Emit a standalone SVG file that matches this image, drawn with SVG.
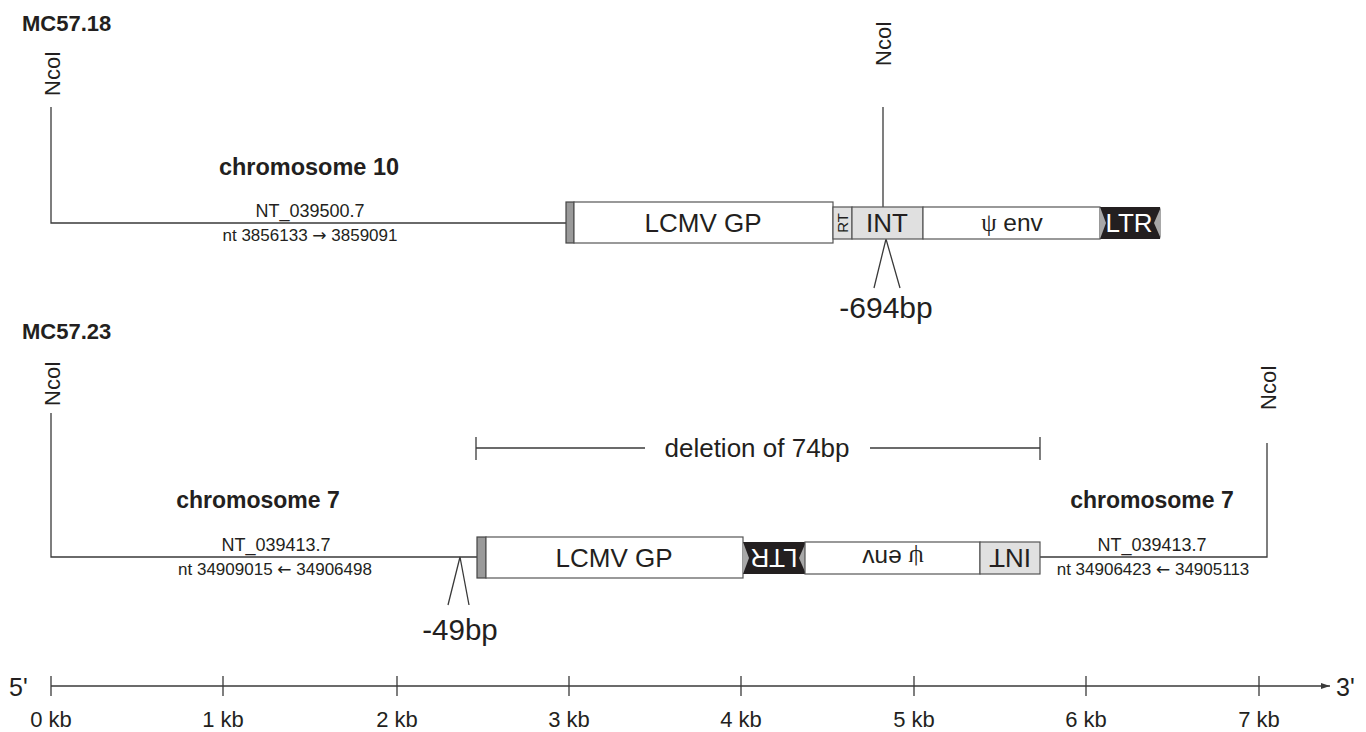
<svg xmlns="http://www.w3.org/2000/svg" width="1366" height="732" viewBox="0 0 1366 732">
<defs>
<style>
text{font-family:"Liberation Sans",Arial,Helvetica,sans-serif;fill:#231f20}
.b{font-weight:bold}
.sym{font-family:"Liberation Serif","Times New Roman",serif}
.arw{font-family:"DejaVu Sans",sans-serif}
.ln{stroke:#3a3a3a;stroke-width:1.3;fill:none}
.box{stroke:#555;stroke-width:1.2}
.w{fill:#fff}
.g{fill:#e0e0e0}
.strip{fill:#9a9a9a;stroke:#444;stroke-width:1.2}
.ltr{fill:#231f20}
.tri{fill:#a8a8a8}
</style>
<marker id="arr" markerWidth="10" markerHeight="8" refX="9" refY="4" orient="auto" markerUnits="userSpaceOnUse">
<path d="M0,1 L9,4 L0,7 Z" fill="#3a3a3a"/>
</marker>
</defs>
<rect width="1366" height="732" fill="#fff"/>

<!-- connectors / lines -->
<g id="connectors">
<polyline class="ln" points="51,107 51,223 566,223"/>
<line class="ln" x1="883" y1="107" x2="883" y2="207"/>
<polyline class="ln" points="874,288 886,239 900,288"/>
<polyline class="ln" points="51,413 51,557 477,557"/>
<polyline class="ln" points="1040,557 1267,557 1267,443"/>
<polyline class="ln" points="448,605 460,557 469,605"/>
<line class="ln" x1="476" y1="448" x2="645" y2="448"/>
<line class="ln" x1="870" y1="448" x2="1040" y2="448"/>
<line class="ln" x1="476" y1="437" x2="476" y2="460"/>
<line class="ln" x1="1040" y1="437" x2="1040" y2="460"/>
</g>

<!-- top construct -->
<g id="mc5718">
<text class="b" x="22" y="31" font-size="22">MC57.18</text>
<text x="0" y="0" font-size="22" transform="translate(60,96) rotate(-90)">NcoI</text>
<text x="0" y="0" font-size="22" transform="translate(891,66) rotate(-90)">NcoI</text>
<text class="b" x="309" y="175" font-size="23.5" text-anchor="middle">chromosome 10</text>
<text x="310" y="217" font-size="18" text-anchor="middle">NT_039500.7</text>
<text x="310" y="241" font-size="17" text-anchor="middle">nt 3856133 <tspan class="arw">→</tspan> 3859091</text>
</g>
<g id="top-strip"><rect class="strip" x="566" y="202" width="8" height="41"/></g>
<g id="top-lcmv"><rect class="box w" x="574" y="202" width="259" height="41"/>
<text x="703" y="232" font-size="26" text-anchor="middle">LCMV GP</text></g>
<g id="top-rt"><rect class="box g" x="833" y="207" width="19" height="32"/>
<text x="0" y="0" font-size="15" text-anchor="middle" transform="translate(848,223) rotate(-90)">RT</text></g>
<g id="top-int"><rect class="box g" x="852" y="207" width="71" height="32"/>
<text x="887" y="232" font-size="26" text-anchor="middle">INT</text></g>
<g id="top-env"><rect class="box w" x="923" y="207" width="177" height="32"/>
<text x="1012" y="231" font-size="24.5" text-anchor="middle"><tspan class="sym">ψ</tspan> env</text></g>
<g id="top-ltr"><rect class="ltr" x="1100" y="207" width="60" height="32"/>
<path class="tri" d="M1100,207 L1106,223 L1100,239 Z"/>
<path class="tri" d="M1161,207 L1154,223 L1161,239 Z"/>
<text x="1129" y="232" font-size="26" text-anchor="middle" style="fill:#fff">LTR</text></g>
<g id="top-del"><text x="886" y="318" font-size="30" text-anchor="middle">-694bp</text></g>

<!-- bottom construct -->
<g id="mc5723">
<text class="b" x="22" y="339" font-size="22">MC57.23</text>
<text x="0" y="0" font-size="22" transform="translate(60,406) rotate(-90)">NcoI</text>
<text x="0" y="0" font-size="22" transform="translate(1276,410) rotate(-90)">NcoI</text>
<text class="b" x="258" y="508" font-size="23" text-anchor="middle">chromosome 7</text>
<text x="276" y="551" font-size="18" text-anchor="middle">NT_039413.7</text>
<text x="275" y="575" font-size="17" text-anchor="middle">nt 34909015 <tspan class="arw">←</tspan> 34906498</text>
<text class="b" x="1152" y="508" font-size="23" text-anchor="middle">chromosome 7</text>
<text x="1152" y="551" font-size="18" text-anchor="middle">NT_039413.7</text>
<text x="1153" y="575" font-size="17" text-anchor="middle">nt 34906423 <tspan class="arw">←</tspan> 34905113</text>
<text x="757" y="457" font-size="26" text-anchor="middle">deletion of 74bp</text>
</g>
<g id="bot-strip"><rect class="strip" x="477" y="537" width="9" height="41"/></g>
<g id="bot-lcmv"><rect class="box w" x="486" y="537" width="257" height="41"/>
<text x="614" y="567" font-size="26" text-anchor="middle">LCMV GP</text></g>
<g id="bot-ltr"><rect class="ltr" x="743" y="542" width="62" height="32"/>
<path class="tri" d="M743,542 L749,558 L743,574 Z"/>
<path class="tri" d="M806,542 L799,558 L806,574 Z"/>
<text x="0" y="0" font-size="26" text-anchor="middle" style="fill:#fff" transform="translate(774,558) rotate(180) translate(0,9)">LTR</text></g>
<g id="bot-env"><rect class="box w" x="805" y="542" width="175" height="32"/>
<text x="0" y="0" font-size="24.5" text-anchor="middle" transform="translate(893,558) rotate(180) translate(0,8)"><tspan class="sym">ψ</tspan> env</text></g>
<g id="bot-int"><rect class="box g" x="980" y="542" width="60" height="32"/>
<text x="0" y="0" font-size="26" text-anchor="middle" transform="translate(1010,558) rotate(180) translate(0,9)">INT</text></g>
<g id="bot-del"><text x="460" y="640" font-size="29.5" text-anchor="middle">-49bp</text></g>

<!-- scale axis -->
<g id="axis">
<line class="ln" x1="51" y1="686" x2="1330" y2="686" marker-end="url(#arr)"/>
<g class="ln">
<line x1="51" y1="676" x2="51" y2="696"/>
<line x1="223" y1="676" x2="223" y2="696"/>
<line x1="397" y1="676" x2="397" y2="696"/>
<line x1="569" y1="676" x2="569" y2="696"/>
<line x1="741" y1="676" x2="741" y2="696"/>
<line x1="914" y1="676" x2="914" y2="696"/>
<line x1="1086" y1="676" x2="1086" y2="696"/>
<line x1="1259" y1="676" x2="1259" y2="696"/>
</g>
<text x="9" y="696" font-size="25">5'</text>
<text x="1336" y="696" font-size="25">3'</text>
<g font-size="22" text-anchor="middle">
<text x="51" y="727">0 kb</text>
<text x="223" y="727">1 kb</text>
<text x="397" y="727">2 kb</text>
<text x="569" y="727">3 kb</text>
<text x="741" y="727">4 kb</text>
<text x="914" y="727">5 kb</text>
<text x="1086" y="727">6 kb</text>
<text x="1259" y="727">7 kb</text>
</g>
</g>
</svg>
